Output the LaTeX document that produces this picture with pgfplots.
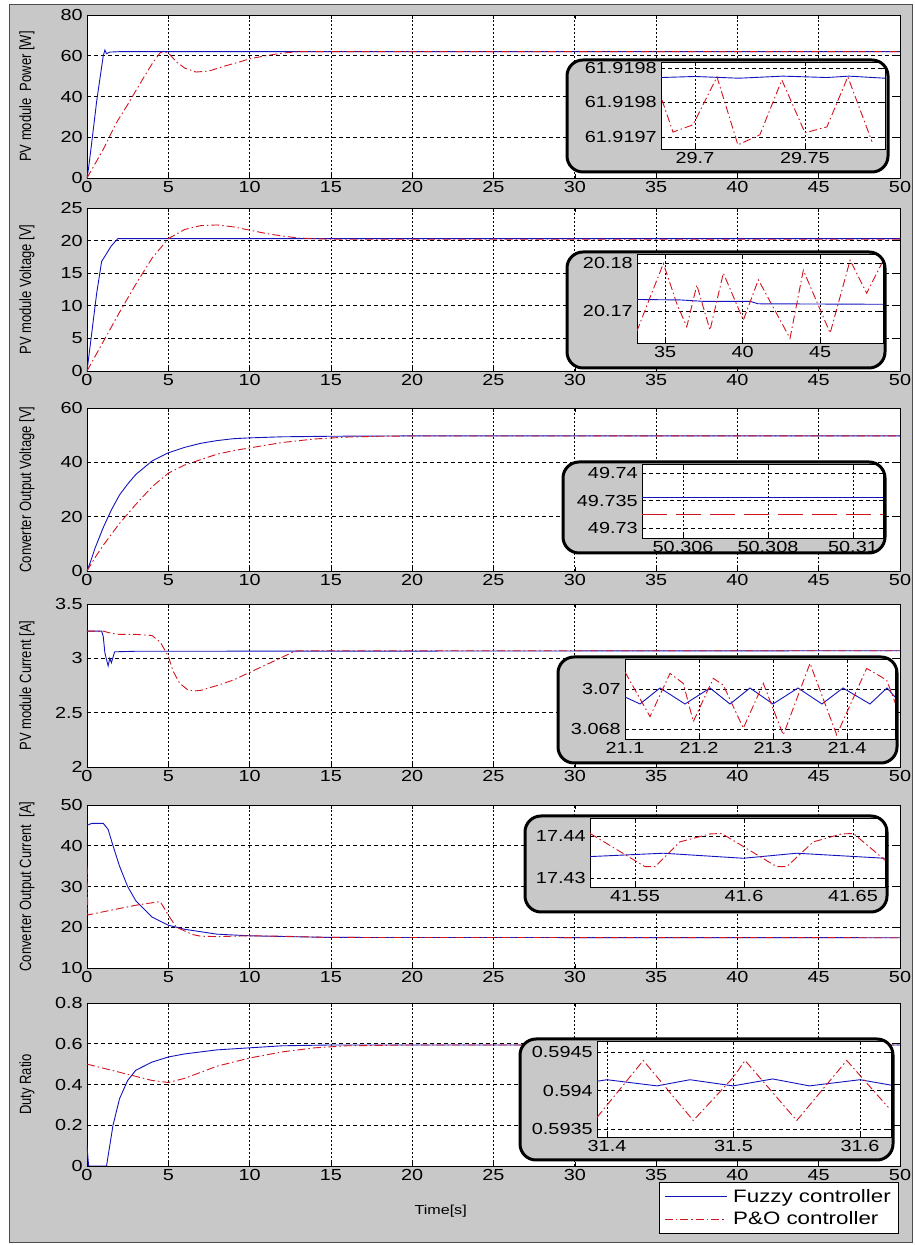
\documentclass[border=0pt]{standalone}
\usepackage{fontspec}
\setmainfont{Liberation Sans}
\usepackage{graphicx}
\usepackage{pgfplots}
\pgfplotsset{compat=1.18}
\definecolor{bgray}{RGB}{200,200,200}
\definecolor{fzc}{RGB}{20,20,190}
\definecolor{poc}{RGB}{210,20,30}
\newcommand\sx[1]{\scalebox{1.24}[1]{#1}}
\newcommand\sy[1]{\scalebox{1}[1.25]{#1}}
\pgfplotsset{
  base/.style={scale only axis, axis background/.style={fill=white},
    tick align=inside, major tick length=4pt,
    axis line style={black, line width=0.8pt},
    every tick/.style={black, line width=0.6pt},
    grid=major,
    x grid style={black, line width=0.7pt, dash pattern=on 1.5pt off 2.5pt},
    y grid style={black, line width=0.7pt, dash pattern=on 4pt off 3pt},
    /pgf/number format/assume math mode=true,
    tick label style={font=\fontsize{16}{17}\selectfont, xscale=1.24},
    label style={font=\fontsize{13}{15}\selectfont},
    anchor=south west},
  mainax/.style={base, width=813pt, height=163pt, xmin=0, xmax=50, xtick={0,5,...,50},
    ylabel style={at={(axis description cs:-0.074,0.5)}, anchor=center}},
  sfz/.style={color=fzc, line width=0.9pt},
  spo/.style={color=poc, line width=0.9pt, dash pattern=on 8pt off 3pt on 1.5pt off 3pt},
}
\begin{document}
\begin{tikzpicture}[x=1pt,y=1pt]
\path[use as bounding box] (0,0) rectangle (914,1245);
\fill[bgray] (9,2) rectangle (912,1240);
\draw[black!70, line width=1pt] (9,2) rectangle (912,1240);

% ---------- Panel 1: PV power ----------
\begin{axis}[mainax, at={(87pt,1067pt)}, ymin=0, ymax=80, ytick={0,20,...,80}, ylabel={\sy{PV module\ \ Power [W]}}]
\addplot[sfz] coordinates {(0,0) (0.1,5) (0.3,18) (0.6,38) (1.0,60) (1.1,62.8) (1.2,61) (1.4,61.8) (2,62) (50,62)};
\addplot[spo] coordinates {(0,0) (0.5,7) (1,14) (1.8,27) (2.5,36) (3.5,49.5) (4,56) (4.5,61.5) (4.8,62) (5.1,60.5) (5.5,57) (6,54) (6.7,52) (7.5,52.5) (8.5,55) (9.4,57) (10,58.5) (11,60) (12,61.3) (13,62) (50,62)};
\end{axis}
\fill[bgray, rounded corners=16pt] (567,1073) rectangle (888,1185);
\begin{scope}
\clip[rounded corners=16pt] (567,1073) rectangle (888,1185);
\begin{axis}[base, at={(661pt,1096pt)}, width=224pt, height=87pt,
  xmin=-15.45, xmax=86.4, ymin=-0.35, ymax=2.17,
  xtick={0,50}, xticklabels={29.7,29.75}, ytick={0,1,2}, yticklabels={61.9197,61.9198,61.9198}]
\addplot[sfz] coordinates {(-15.45,1.72) (0,1.75) (20,1.70) (40,1.76) (60,1.72) (70,1.76) (86.4,1.70)};
\addplot[spo] coordinates {(-15,1.07) (-10,0.14) (-0.9,0.35) (10,1.74) (19.5,-0.23) (29.5,0.06) (39.5,1.65) (50,0.12) (60,0.29) (69.5,1.74) (80.5,-0.14)};
\end{axis}
\end{scope}
\draw[line width=3pt, rounded corners=16pt] (567,1073) rectangle (888,1185);

% ---------- Panel 2: PV voltage ----------
\begin{axis}[mainax, at={(87pt,874pt)}, ymin=0, ymax=25, ytick={0,5,...,25}, ylabel={\sy{PV module Voltage [V]}}]
\addplot[sfz] coordinates {(0,0) (0.3,6) (0.6,12) (0.9,16.8) (1.2,18) (1.5,19.2) (1.9,20.3) (50,20.3)};
\addplot[spo] coordinates {(0,0) (1,4.5) (2,9) (3,13.3) (4,17.3) (5,20.3) (6,21.7) (7,22.3) (8,22.4) (9,22.1) (10,21.6) (11,21.1) (12,20.7) (13,20.4) (14,20.3) (15,20.2) (20,20.2) (50,20.2)};
\end{axis}
\fill[bgray, rounded corners=16pt] (567,877) rectangle (885,993);
\begin{scope}
\clip[rounded corners=16pt] (567,877) rectangle (885,993);
\begin{axis}[base, at={(637pt,902pt)}, width=246pt, height=89pt,
  xmin=33.19, xmax=49.06, ymin=-6.67, ymax=11.88,
  xtick={35,40,45}, ytick={0,10}, yticklabels={20.17,20.18}]
\addplot[sfz] coordinates {(33.19,2.4) (36,2.3) (37.5,2.0) (40.5,2.0) (41,1.5) (49.06,1.4)};
\addplot[spo] coordinates {(33.17,-4.3) (34.89,9.9) (35.75,1.6) (36.40,-3.3) (37.05,5.4) (37.90,-4.0) (38.76,7.9) (40.05,-1.9) (41.02,6.5) (43.06,-5.7) (43.92,8.5) (45.65,-4.6) (46.94,10.6) (48.01,3.7) (49.08,10.6)};
\end{axis}
\end{scope}
\draw[line width=3pt, rounded corners=16pt] (567,877) rectangle (885,993);

% ---------- Panel 3: converter output voltage ----------
\begin{axis}[mainax, at={(87pt,674pt)}, ymin=0, ymax=60, ytick={0,20,...,60}, ylabel={\sy{Converter Output Voltage [V]}}]
\addplot[sfz] coordinates {(0,0) (0.25,4) (0.5,8.5) (1,16) (1.5,22.5) (2,28) (2.5,32) (3,35.5) (4,40.5) (5,43.5) (6,45.5) (7,47) (8,48) (9,48.7) (10,49) (12,49.4) (15,49.6) (20,49.73) (50,49.74)};
\addplot[spo] coordinates {(0,0) (0.5,5) (1,9.5) (2,17.5) (3,24.5) (4,31) (5,36) (6,39) (7,41) (8,43) (9,44.3) (10,45.3) (12,47.3) (14,48.6) (16,49.3) (18,49.6) (20,49.7) (50,49.73)};
\end{axis}
\fill[bgray, rounded corners=16pt] (563,692) rectangle (885,783);
\begin{scope}
\clip[rounded corners=16pt] (563,692) rectangle (885,783);
\begin{axis}[base, at={(642pt,707pt)}, width=241pt, height=74pt,
  xmin=5.035, xmax=10.706, ymin=-1.82, ymax=11.64,
  xtick={6,8,10}, xticklabels={50.306,50.308,50.31}, ytick={0,5,10}, yticklabels={49.73,49.735,49.74}]
\addplot[sfz] coordinates {(5.035,5.5) (10.706,5.5)};
\addplot[color=poc, line width=0.9pt, dash pattern=on 25pt off 9pt] coordinates {(5.035,2.5) (10.706,2.5)};
\end{axis}
\end{scope}
\draw[line width=3pt, rounded corners=16pt] (563,692) rectangle (885,783);

% ---------- Panel 4: PV current ----------
\begin{axis}[mainax, at={(87pt,478pt)}, ymin=2, ymax=3.5, ytick={2,2.5,3,3.5}, ylabel={\sy{PV module Current [A]}}]
\addplot[sfz] coordinates {(0,3.25) (0.9,3.25) (1.0,3.2) (1.1,3.05) (1.3,2.93) (1.4,3.0) (1.5,2.96) (1.7,3.06) (3,3.065) (50,3.07)};
\addplot[spo] coordinates {(0,3.25) (1,3.25) (1.5,3.23) (2,3.22) (3,3.22) (4,3.21) (4.5,3.15) (5,3.02) (5.3,2.88) (5.7,2.77) (6.2,2.71) (6.6,2.70) (7,2.705) (8,2.75) (9,2.80) (10,2.87) (11,2.94) (12,3.01) (12.7,3.06) (13,3.07) (50,3.07)};
\end{axis}
\fill[bgray, rounded corners=16pt] (558,482) rectangle (897,588);
\begin{scope}
\clip[rounded corners=16pt] (558,482) rectangle (897,588);
\begin{axis}[base, at={(625pt,506pt)}, width=270pt, height=80pt,
  xmin=21.1, xmax=21.4649, ymin=-0.5, ymax=3.5,
  xtick={21.1,21.2,21.3,21.4}, xticklabels={21.1,21.2,21.3,21.4}, ytick={0,2}, yticklabels={3.068,3.07}]
\addplot[sfz] coordinates {(21.1,1.6) (21.1203,1.25) (21.1473,2.05) (21.1811,1.25) (21.2149,2.05) (21.2419,1.25) (21.2689,2.05) (21.3,1.25) (21.3338,2.05) (21.3662,1.25) (21.3946,2.05) (21.4311,1.25) (21.4541,2.05) (21.4649,1.6)};
\addplot[spo] coordinates {(21.1,2.85) (21.1338,0.62) (21.1608,2.78) (21.1788,2.28) (21.1923,0.37) (21.2193,2.53) (21.2328,2.2) (21.2599,0.04) (21.2869,2.28) (21.3139,-0.3) (21.35,3.28) (21.3861,-0.3) (21.4266,3.03) (21.4536,2.45) (21.4671,1.12)};
\end{axis}
\end{scope}
\draw[line width=3pt, rounded corners=16pt] (558,482) rectangle (897,588);

% ---------- Panel 5: converter output current ----------
\begin{axis}[mainax, at={(87pt,277pt)}, ymin=10, ymax=50, ytick={10,20,...,50}, ylabel={\sy{Converter Output Current\ \ [A]}}]
\addplot[sfz] coordinates {(0,45) (0.3,45.5) (1,45.5) (1.3,44) (1.6,40) (2,35) (2.5,30) (3,26.5) (4,22.5) (5,20.5) (6,19.5) (8,18.3) (10,17.9) (15,17.5) (50,17.43)};
\addplot[spo] coordinates {(0,35) (0.05,23) (1,23.8) (2,24.6) (3,25.4) (4,26) (4.5,26.3) (5,23) (5.5,20) (6.5,18.2) (7,17.8) (8,17.7) (10,17.9) (12,17.8) (15,17.5) (50,17.43)};
\end{axis}
\fill[bgray, rounded corners=16pt] (525,333) rectangle (887,429);
\begin{scope}
\clip[rounded corners=16pt] (525,333) rectangle (887,429);
\begin{axis}[base, at={(590pt,358pt)}, width=295pt, height=69pt,
  xmin=2.936, xmax=16.47, ymin=-2.14, ymax=14.29,
  xtick={5,10,15}, xticklabels={41.55,41.6,41.65}, ytick={0,10}, yticklabels={17.43,17.44}]
\addplot[sfz] coordinates {(2.936,5.1) (6.30,5.9) (9.97,4.7) (12.42,5.9) (16.47,4.7)};
\addplot[spo] coordinates {(2.94,10.6) (5.46,2.7) (5.92,2.7) (7.06,8.6) (8.44,10.5) (8.98,10.6) (11.5,2.7) (11.96,2.7) (13.18,8.6) (14.48,10.5) (15.02,10.6) (16.55,3.9)};
\end{axis}
\end{scope}
\draw[line width=3pt, rounded corners=16pt] (525,333) rectangle (887,429);

% ---------- Panel 6: duty ratio ----------
\begin{axis}[mainax, at={(87pt,79pt)}, ymin=0, ymax=0.8, ytick={0,0.2,...,0.8}, ylabel={\sy{Duty Ratio}},
  xlabel={\sx{Time[s]}}, xlabel style={at={(axis description cs:0.435,-0.28)}, anchor=center},
  legend style={at={(axis description cs:0.9975,-0.098)}, anchor=north east, font=\fontsize{18}{21}\selectfont, draw=black, fill=white, inner sep=5pt, row sep=4pt, column sep=4pt},
  legend cell align=left,
  legend image code/.code={\draw[#1] (0pt,0pt) -- (62pt,0pt);}]
\addplot[sfz] coordinates {(0,0.1) (0.1,0) (1.2,0) (1.4,0.1) (1.6,0.2) (2,0.33) (2.5,0.42) (3,0.47) (4,0.51) (5,0.535) (6,0.55) (8,0.57) (10,0.58) (12,0.59) (15,0.594) (50,0.594)};
\addlegendentry{\sx{Fuzzy controller}}
\addplot[spo] coordinates {(0,0.5) (1,0.48) (2,0.46) (3,0.44) (4,0.42) (5,0.41) (6,0.43) (7,0.46) (8,0.49) (10,0.53) (12,0.56) (14,0.58) (16,0.59) (20,0.594) (50,0.594)};
\addlegendentry{\sx{P\&O controller}}
\end{axis}
\fill[bgray, rounded corners=16pt] (520,85) rectangle (893,206);
\begin{scope}
\clip[rounded corners=16pt] (520,85) rectangle (893,206);
\begin{axis}[base, at={(597pt,108pt)}, width=294pt, height=96pt,
  xmin=-7.9, xmax=224.5, ymin=-1.04, ymax=11.43,
  xtick={0,100,200}, xticklabels={31.4,31.5,31.6}, ytick={0,5,10}, yticklabels={0.5935,0.594,0.5945}]
\addplot[sfz] coordinates {(-7.9,6.2) (0,6.4) (39.5,5.6) (65.6,6.4) (99.6,5.6) (131,6.5) (160,5.6) (200,6.4) (224.5,5.7)};
\addplot[spo] coordinates {(-7.9,1.5) (28.7,8.9) (68.2,1.1) (99.8,6.7) (109.1,8.9) (150,1.1) (189.5,8.9) (222.4,2.8)};
\end{axis}
\end{scope}
\draw[line width=3pt, rounded corners=16pt] (520,85) rectangle (893,206);
\end{tikzpicture}
\end{document}
